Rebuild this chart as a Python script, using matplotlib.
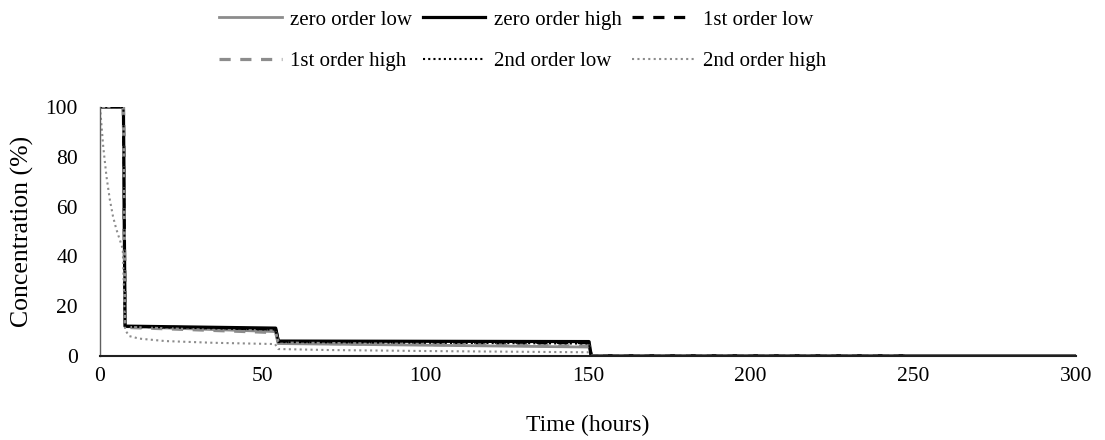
import matplotlib
matplotlib.use("Agg")
import matplotlib.pyplot as plt

plt.rcParams['font.family'] = ['Liberation Serif', 'DejaVu Serif']

# ---- data ----
t_std = [0, 7.2, 7.7, 54, 54.8, 150.3, 151, 247]
t_zero_high = [0, 7.2, 7.7, 54, 54.8, 150.3, 151, 300]

zero_low = [100, 100, 11.8, 9.8, 5.0, 3.6, 0, 0]
zero_high = [100, 100, 12.0, 11.2, 6.0, 5.8, 0, 0]
first_low = [100, 100, 11.8, 10.8, 5.8, 5.4, 0, 0]
first_high = [100, 100, 11.5, 9.4, 5.2, 4.0, 0, 0]
second_low = [100, 100, 11.8, 10.6, 5.6, 5.0, 0, 0]

t_second_high = [0, 0.5, 1, 2, 3, 4, 5, 6, 7, 7.7, 9, 12, 20, 35, 53.8, 54.8,
                 70, 100, 130, 150.3, 151, 247]
second_high = [100, 92, 84, 72, 63, 56, 51, 47, 43, 10.5, 8.0, 7.0, 6.0, 5.3, 4.8,
               2.8, 2.4, 2.0, 1.7, 1.5, 0, 0]

x_ticks = [0, 50, 100, 150, 200, 250, 300]
y_ticks = [0, 20, 40, 60, 80, 100]

fig = plt.figure(figsize=(11.05, 4.4), dpi=100)
ax = fig.add_axes([0.0905, 0.1909, 0.8833, 0.5659])

gray = '#8c8c8c'
h_zl, = ax.plot(t_std, zero_low, color=gray, lw=2.0, label='zero order low')
h_zh, = ax.plot(t_zero_high, zero_high, color='black', lw=2.3, label='zero order high')
h_1l, = ax.plot(t_std, first_low, color='black', lw=2.3, dashes=(3.5, 3), label='1st order low')
h_1h, = ax.plot(t_std, first_high, color=gray, lw=2.3, dashes=(3.5, 3), label='1st order high')
h_2l, = ax.plot(t_std, second_low, color='black', lw=1.5, dashes=(1, 1.5), label='2nd order low')
h_2h, = ax.plot(t_second_high, second_high, color=gray, lw=1.5, dashes=(1, 1.6), label='2nd order high')

ax.set_xlim(0, 300)
ax.set_ylim(0, 100)
ax.set_xticks(x_ticks)
ax.set_yticks(y_ticks)
ax.tick_params(length=0, labelsize=15.5)
ax.tick_params(axis='x', pad=8)
ax.tick_params(axis='y', pad=16)
for s in ['top', 'right']:
    ax.spines[s].set_visible(False)
ax.spines['left'].set_color('#606060')
ax.spines['bottom'].set_color('#202020')
ax.spines['left'].set_linewidth(1.0)
ax.spines['bottom'].set_linewidth(1.5)

ax.set_xlabel('Time (hours)', fontsize=17, labelpad=21)
ax.set_ylabel('Concentration (%)', fontsize=18.5, labelpad=8)

handles = [h_zl, h_1h, h_zh, h_2l, h_1l, h_2h]
fig.legend(handles, [h.get_label() for h in handles],
           loc='upper center', bbox_to_anchor=(0.473, 1.02), ncol=3, frameon=False,
           fontsize=15, handlelength=3.0, handletextpad=0.4, columnspacing=0.5,
           labelspacing=1.05)

fig.savefig('out.png', dpi=100)
